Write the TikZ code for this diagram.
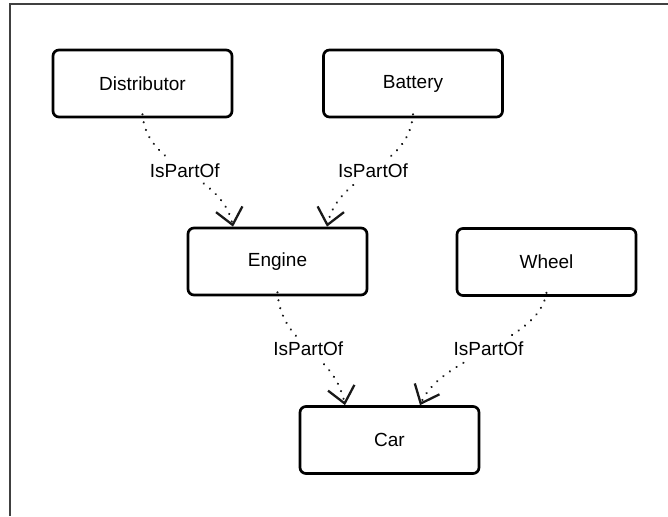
\documentclass[tikz,border=0pt]{standalone}
\usepackage{fontspec}
\setmainfont{Liberation Sans}
\usetikzlibrary{arrows.meta}
\begin{document}
\begin{tikzpicture}[x=1pt,y=-1pt,
  box/.style={draw=black, line width=2.7pt, rounded corners=6pt, minimum width=179pt, minimum height=67pt, inner sep=0pt, font=\fontsize{19}{22}\selectfont, text=black},
  partof/.style={draw=black!90, line width=2.4pt, line cap=round, dash pattern=on 0.01pt off 8pt,
    -{Straight Barb[length=16pt,width=27pt,line width=2.3pt]}},
  lbl/.style={fill=white, inner xsep=2pt, inner ysep=5pt, font=\fontsize{19}{22}\selectfont, text=black},
  frame/.style={draw=black!75, line width=2pt}]
\useasboundingbox (0,0) rectangle (668,516);
\coordinate (ftl) at (9.5,4.5);
\coordinate (ftr) at (668,4.5);
\coordinate (fbl) at (9.5,516);
\draw[frame] (ftr) -- (ftl) -- (fbl);

\node[box] (dist) at (142.5,83.5) {Distributor};
\node[box] (batt) at (413,83.5) {Battery};
\node[box] (eng) at (277.5,261.5) {Engine};
\node[box] (wheel) at (546.5,262) {Wheel};
\node[box] (car) at (389.5,440) {Car};

\path[partof] ([yshift=4pt]dist.south) .. controls +(4,55) and +(-12,-55) .. ([xshift=-44.5pt]eng.north)
  node[lbl, pos=0.5] {IsPartOf};
\path[partof] ([yshift=4pt]batt.south) .. controls +(-4,55) and +(12,-55) .. ([xshift=49.5pt]eng.north)
  node[lbl, pos=0.5] {IsPartOf};
\path[partof] ([yshift=4pt]eng.south) .. controls +(4,55) and +(-12,-55) .. ([xshift=-44.5pt]car.north)
  node[lbl, pos=0.5] {IsPartOf};
\path[partof] ([yshift=4pt]wheel.south) .. controls +(-8,50) and +(22,-50) .. ([xshift=30.5pt]car.north)
  node[lbl, pos=0.5] {IsPartOf};
\end{tikzpicture}
\end{document}
